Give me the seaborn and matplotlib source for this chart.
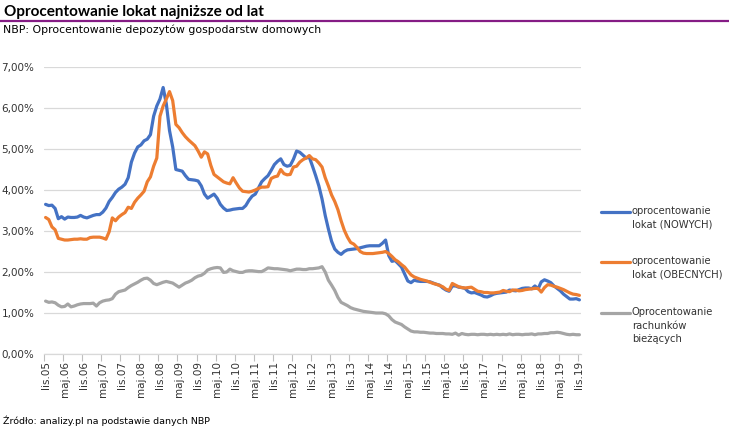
import numpy as np
import pandas as pd
import matplotlib
matplotlib.use("Agg")
import matplotlib.pyplot as plt
from matplotlib.lines import Line2D
import seaborn as sns

# Monthly data, lis.05 (Nov 2005) .. lis.19 (Nov 2019), values in %
nowych = [
    3.65, 3.62, 3.63, 3.55, 3.30, 3.35, 3.29, 3.34, 3.33, 3.33, 3.34, 3.38,
    3.34, 3.32, 3.35, 3.38, 3.40, 3.40, 3.46, 3.56, 3.72, 3.82, 3.94, 4.02,
    4.07, 4.14, 4.30, 4.68, 4.90, 5.05, 5.10, 5.20, 5.24, 5.35, 5.80, 6.05,
    6.22, 6.50, 6.10, 5.45, 5.05, 4.50, 4.48, 4.46, 4.35, 4.26, 4.25, 4.24,
    4.22, 4.10, 3.90, 3.80, 3.85, 3.90, 3.80, 3.65, 3.56, 3.50, 3.51, 3.53,
    3.54, 3.55, 3.55, 3.62, 3.75, 3.85, 3.90, 4.05, 4.20, 4.28, 4.35, 4.48,
    4.62, 4.70, 4.76, 4.62, 4.58, 4.60, 4.75, 4.95, 4.92, 4.85, 4.78, 4.80,
    4.58, 4.35, 4.10, 3.78, 3.38, 3.05, 2.75, 2.56, 2.48, 2.43, 2.50, 2.54,
    2.55, 2.56, 2.57, 2.59, 2.61, 2.63, 2.64, 2.64, 2.64, 2.64, 2.70, 2.78,
    2.40, 2.26, 2.28, 2.20, 2.12, 1.95, 1.78, 1.74, 1.80, 1.78, 1.77, 1.77,
    1.77, 1.76, 1.73, 1.70, 1.68, 1.61, 1.56, 1.53, 1.66, 1.66, 1.63, 1.62,
    1.60, 1.52, 1.49, 1.50, 1.47, 1.44, 1.40, 1.39, 1.42, 1.46, 1.48, 1.49,
    1.50, 1.51, 1.56, 1.55, 1.54, 1.57, 1.60, 1.61, 1.61, 1.59, 1.66, 1.59,
    1.76, 1.81, 1.78, 1.74, 1.66, 1.60, 1.54, 1.46, 1.40, 1.34, 1.34, 1.35,
    1.32,
]
obecnych = [
    3.33, 3.28, 3.10, 3.03, 2.82, 2.80, 2.78, 2.78, 2.79, 2.80, 2.80, 2.81,
    2.80, 2.80, 2.84, 2.85, 2.85, 2.85, 2.83, 2.80, 2.98, 3.32, 3.25, 3.34,
    3.40, 3.45, 3.58, 3.55, 3.70, 3.80, 3.88, 3.97, 4.20, 4.32, 4.58, 4.78,
    5.80, 6.05, 6.22, 6.40, 6.18, 5.60, 5.52, 5.40, 5.30, 5.22, 5.15, 5.08,
    4.95, 4.80, 4.93, 4.88, 4.60, 4.38, 4.32, 4.26, 4.20, 4.17, 4.15, 4.30,
    4.17, 4.05, 3.97, 3.96, 3.95, 3.97, 4.00, 4.04, 4.07, 4.07, 4.08, 4.28,
    4.32, 4.34, 4.50, 4.40, 4.37, 4.38, 4.56, 4.58, 4.68, 4.74, 4.78, 4.84,
    4.76, 4.74, 4.66, 4.56, 4.30, 4.10, 3.88, 3.72, 3.52, 3.25, 3.02, 2.85,
    2.72, 2.68, 2.60, 2.50, 2.46, 2.45, 2.45, 2.45, 2.46, 2.47, 2.48, 2.50,
    2.45, 2.38, 2.30, 2.25, 2.18, 2.12, 2.02, 1.93, 1.88, 1.85, 1.82, 1.80,
    1.78, 1.75, 1.72, 1.70, 1.67, 1.64, 1.58, 1.55, 1.72, 1.68, 1.64, 1.62,
    1.61, 1.62, 1.63, 1.58, 1.53, 1.52, 1.50, 1.50, 1.49, 1.49, 1.50, 1.51,
    1.55, 1.53, 1.52, 1.56, 1.56, 1.54, 1.55, 1.57, 1.58, 1.59, 1.60, 1.60,
    1.51, 1.62, 1.69, 1.68, 1.65, 1.63, 1.60, 1.57, 1.53, 1.49, 1.46, 1.45,
    1.43,
]
biezace = [
    1.29, 1.26, 1.27, 1.25, 1.19, 1.15, 1.16, 1.22, 1.15, 1.17, 1.20, 1.22,
    1.23, 1.23, 1.23, 1.24, 1.17, 1.25, 1.29, 1.31, 1.32, 1.35, 1.46, 1.52,
    1.54, 1.56, 1.62, 1.67, 1.71, 1.75, 1.80, 1.84, 1.85, 1.80, 1.72, 1.69,
    1.72, 1.75, 1.77, 1.75, 1.73, 1.68, 1.63, 1.68, 1.73, 1.76, 1.80, 1.86,
    1.90, 1.92, 1.97, 2.05, 2.08, 2.10, 2.11, 2.10, 1.99, 2.00, 2.07, 2.03,
    2.01, 1.99, 1.99, 2.02, 2.03, 2.03, 2.02, 2.01, 2.01, 2.05, 2.10, 2.09,
    2.08, 2.08, 2.07, 2.06, 2.05, 2.03, 2.05, 2.07, 2.07, 2.06, 2.06, 2.08,
    2.08, 2.09, 2.10, 2.13, 2.00, 1.80, 1.68, 1.55, 1.38, 1.26, 1.22, 1.18,
    1.13, 1.10, 1.08, 1.06, 1.04, 1.03, 1.02, 1.01, 1.00, 1.00, 1.00, 0.98,
    0.93, 0.84, 0.78, 0.75, 0.72, 0.66, 0.61, 0.56, 0.54, 0.54, 0.53, 0.53,
    0.52, 0.51, 0.51, 0.50, 0.50, 0.50, 0.49, 0.49, 0.48, 0.51, 0.46, 0.50,
    0.48, 0.47, 0.48, 0.48, 0.47, 0.48, 0.48, 0.47, 0.48, 0.47, 0.48, 0.47,
    0.48, 0.47, 0.49, 0.47, 0.48, 0.48, 0.47, 0.48, 0.48, 0.49, 0.47, 0.49,
    0.49, 0.50, 0.50, 0.52, 0.52, 0.53, 0.52, 0.50, 0.48, 0.47, 0.48, 0.47,
    0.47,
]

x_labels = ['lis.05', 'maj.06', 'lis.06', 'maj.07', 'lis.07', 'maj.08', 'lis.08',
            'maj.09', 'lis.09', 'maj.10', 'lis.10', 'maj.11', 'lis.11', 'maj.12',
            'lis.12', 'maj.13', 'lis.13', 'maj.14', 'lis.14', 'maj.15', 'lis.15',
            'maj.16', 'lis.16', 'maj.17', 'lis.17', 'maj.18', 'lis.18', 'maj.19',
            'lis.19']
y_ticks = [0, 1, 2, 3, 4, 5, 6, 7]

series_names = ['nowych', 'obecnych', 'biezace']
legend_labels = ['oprocentowanie\nlokat (NOWYCH)',
                 'oprocentowanie\nlokat (OBECNYCH)',
                 'Oprocentowanie\nrachunków\nbieżących']
colors = {'nowych': '#4472C4', 'obecnych': '#ED7D31', 'biezace': '#A5A5A5'}

frames = []
for name, vals in zip(series_names, [nowych, obecnych, biezace]):
    frames.append(pd.DataFrame({'miesiac': np.arange(len(vals)),
                                'wartosc': vals, 'seria': name}))
df = pd.concat(frames, ignore_index=True)

sns.set_theme(style='white')
plt.rcParams['font.family'] = ['DejaVu Sans']

W, H = 729, 430
fig = plt.figure(figsize=(W / 100, H / 100), dpi=100)
ax = fig.add_axes([44 / W, 1 - 354 / H, (581 - 44) / W, (354 - 67) / H])

sns.lineplot(data=df, x='miesiac', y='wartosc', hue='seria',
             hue_order=series_names, palette=colors, linewidth=2.3,
             legend=False, ax=ax)

ax.set_xlim(-0.5, 168.5)
ax.set_ylim(0, 7)
ax.set_xlabel('')
ax.set_ylabel('')

# y axis
ax.set_yticks(y_ticks)
ax.set_yticklabels([f'{v:.2f}%'.replace('.', ',') for v in y_ticks])
ax.yaxis.grid(True, color='#d9d9d9', linewidth=0.9)
ax.set_axisbelow(True)
ax.tick_params(axis='y', length=0, pad=7, labelsize=7.5, labelcolor='#333333')

# x axis: labels every 6 months, tick marks between categories
ax.set_xticks(np.arange(len(x_labels)) * 6)
ax.set_xticklabels(x_labels, rotation=90, ha='center', va='top')
ax.set_xticks(np.arange(len(x_labels)) * 6 - 0.5, minor=True)
ax.tick_params(axis='x', which='major', length=0, pad=5, labelsize=7.5,
               labelcolor='#333333')
ax.tick_params(axis='x', which='minor', length=5, width=0.8, color='#bfbfbf',
               bottom=True)

for side in ['left', 'right', 'top']:
    ax.spines[side].set_visible(False)
ax.spines['bottom'].set_color('#d9d9d9')
ax.spines['bottom'].set_linewidth(0.9)

# header
fig.text(4 / W, 1 - 12 / H, 'Oprocentowanie lokat najniższe od lat',
         fontsize=11, fontweight='bold', family=['Lato', 'DejaVu Sans'],
         va='center', ha='left', color='black')
fig.add_artist(Line2D([0, 1], [1 - 20.5 / H] * 2, color='#851c85', linewidth=1.6))
fig.text(3 / W, 1 - 30 / H, 'NBP: Oprocentowanie depozytów gospodarstw domowych',
         fontsize=7.8, va='center', ha='left', color='black')

# legend
legend_y = [212, 262, 313]
for name, label, y in zip(series_names, legend_labels, legend_y):
    fig.add_artist(Line2D([601 / W, 630 / W], [1 - y / H] * 2,
                          color=colors[name], linewidth=2.3))
    fig.text(632 / W, 1 - (y - 6) / H, label, fontsize=7.2, va='top',
             ha='left', color='#333333', linespacing=1.45)

# source
fig.text(3 / W, 1 - 421 / H, 'Źródło: analizy.pl na podstawie danych NBP',
         fontsize=6.8, va='center', ha='left', color='black')

fig.savefig('out.png', dpi=100)
